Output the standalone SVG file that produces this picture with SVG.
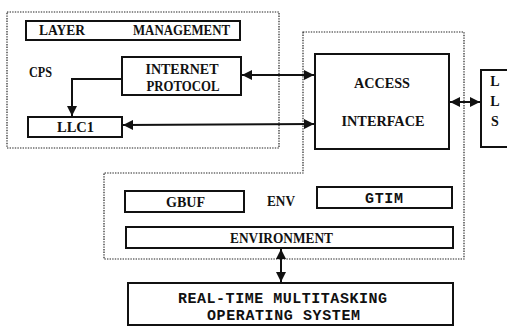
<svg xmlns="http://www.w3.org/2000/svg" width="507" height="327" viewBox="0 0 507 327">
<style>
.box{fill:#fff;stroke:#111;stroke-width:2}
.dot{fill:none;stroke:#222;stroke-width:1.2;stroke-dasharray:1.4 1.2}
.ser{font-family:"Liberation Serif",serif;font-weight:bold;fill:#111}
.mono{font-family:"Liberation Mono",monospace;font-weight:bold;fill:#111}
.con{fill:none;stroke:#111;stroke-width:2}
</style>
<defs>
<marker id="ah" viewBox="0 0 10 10" refX="10" refY="5" markerUnits="userSpaceOnUse" markerWidth="12" markerHeight="10" orient="auto-start-reverse">
<path d="M0,0 L10,5 L0,10 z" fill="#111"/>
</marker>
</defs>
<rect width="507" height="327" fill="#fff"/>
<g id="cps-region">
<rect class="dot" x="7" y="12" width="272" height="136"/>
<text class="ser" x="29" y="77" font-size="14.5" textLength="23" lengthAdjust="spacingAndGlyphs">CPS</text>
</g>
<g id="env-region">
<path class="dot" d="M303,32 H464 V259 H104 V173 H303 Z"/>
<text class="ser" x="267" y="206" font-size="14" textLength="28" lengthAdjust="spacingAndGlyphs">ENV</text>
</g>
<g id="layer-management">
<rect class="box" x="26" y="21" width="214" height="19"/>
<text class="ser" x="39" y="35" font-size="14.5" textLength="46" lengthAdjust="spacingAndGlyphs">LAYER</text>
<text class="ser" x="133" y="35" font-size="14.5" textLength="97" lengthAdjust="spacingAndGlyphs">MANAGEMENT</text>
</g>
<g id="internet-protocol">
<rect class="box" x="122" y="57" width="119" height="38"/>
<text class="ser" x="182" y="74" font-size="15" text-anchor="middle" textLength="73" lengthAdjust="spacingAndGlyphs">INTERNET</text>
<text class="ser" x="183" y="91" font-size="15" text-anchor="middle" textLength="73" lengthAdjust="spacingAndGlyphs">PROTOCOL</text>
</g>
<g id="llc1">
<rect class="box" x="28" y="117" width="94" height="20"/>
<text class="ser" x="57" y="132" font-size="14.5" textLength="37" lengthAdjust="spacingAndGlyphs">LLC1</text>
</g>
<g id="access-interface">
<rect class="box" x="315" y="54" width="134" height="95"/>
<text class="ser" x="382" y="88" font-size="15" text-anchor="middle" textLength="56" lengthAdjust="spacingAndGlyphs">ACCESS</text>
<text class="ser" x="383" y="126" font-size="15" text-anchor="middle" textLength="83" lengthAdjust="spacingAndGlyphs">INTERFACE</text>
</g>
<g id="lls">
<rect class="box" x="481" y="70" width="30" height="77"/>
<text class="ser" x="495" y="86" font-size="14" text-anchor="middle">L</text>
<text class="ser" x="495" y="106" font-size="14" text-anchor="middle">L</text>
<text class="ser" x="495" y="126" font-size="14" text-anchor="middle">S</text>
</g>
<g id="gbuf">
<rect class="box" x="125" y="191" width="119" height="21"/>
<text class="ser" x="166" y="207" font-size="14.5" textLength="39" lengthAdjust="spacingAndGlyphs">GBUF</text>
</g>
<g id="gtim">
<rect class="box" x="317" y="187" width="135" height="21"/>
<text class="mono" x="365" y="203" font-size="15" textLength="38">GTIM</text>
</g>
<g id="environment">
<rect class="box" x="126" y="227" width="327" height="21"/>
<text class="ser" x="230" y="243" font-size="14.5" textLength="103" lengthAdjust="spacingAndGlyphs">ENVIRONMENT</text>
</g>
<g id="rtmos">
<rect class="box" x="128" y="283" width="325" height="42"/>
<text class="mono" x="178" y="303" font-size="15" textLength="209">REAL-TIME MULTITASKING</text>
<text class="mono" x="207" y="320" font-size="15" textLength="153">OPERATING SYSTEM</text>
</g>
<g id="connectors">
<line class="con" x1="242" y1="75" x2="314" y2="75" marker-start="url(#ah)" marker-end="url(#ah)"/>
<line class="con" x1="123" y1="125" x2="314" y2="124" marker-start="url(#ah)" marker-end="url(#ah)"/>
<polyline class="con" points="122,79 72,79 72,116" marker-end="url(#ah)"/>
<line class="con" x1="450" y1="102" x2="480" y2="102" marker-start="url(#ah)" marker-end="url(#ah)"/>
<line class="con" x1="281" y1="249" x2="281" y2="282" marker-start="url(#ah)" marker-end="url(#ah)"/>
</g>
</svg>
